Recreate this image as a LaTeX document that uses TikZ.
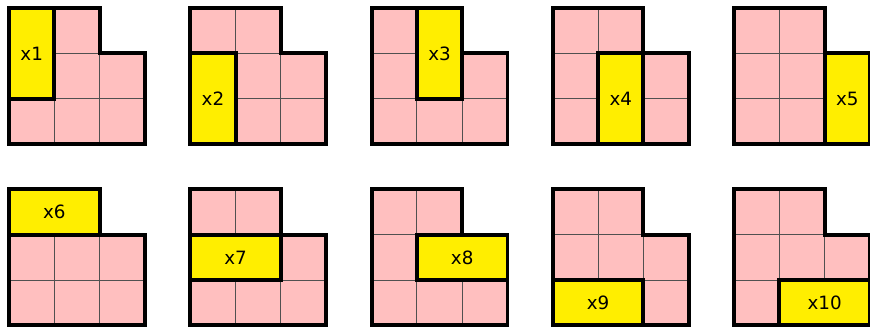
\documentclass[tikz,border=0pt]{standalone}
\usepackage{fontspec}
\setmainfont{DejaVu Sans}
\usepackage{tikz}
\definecolor{cellpink}{RGB}{255,191,191}
\definecolor{domyellow}{RGB}{255,238,0}
\definecolor{gridgray}{RGB}{80,80,80}

\begin{document}
\begin{tikzpicture}[x=1cm,y=-1cm]
			\tikzstyle{cell}=[fill=cellpink,draw=gridgray,line width=0.6pt]
			\tikzstyle{outline}=[draw=black,line width=2.5pt,line join=miter]
			\tikzstyle{domino}=[fill=domyellow,outline]
			\tikzstyle{dlabel}=[font=\fontsize{11.5}{13}\selectfont,inner sep=0pt]

			\useasboundingbox (0,0) rectangle (19.2,7.2);

			% number / column / row / width / height of the yellow piece
			\foreach \n/\c/\r/\w/\h in {1/0/0/1/2, 2/0/1/1/2, 3/1/0/1/2, 4/1/1/1/2, 5/2/1/1/2,
				6/0/0/2/1, 7/0/1/2/1, 8/1/1/2/1, 9/0/2/2/1, 10/1/2/2/1}
			{
				\pgfmathsetmacro{\ox}{0.2+4*mod(\n-1,5)}
				\pgfmathsetmacro{\oy}{0.18+4*int((\n-1)/5)}
				\begin{scope}[shift={(\ox,\oy)}]
					\foreach \x/\y in {0/0,1/0,0/1,1/1,2/1,0/2,1/2,2/2}
						\draw [cell] (\x,\y) rectangle ++(1,1);
					\draw [outline] (0,0) -- (2,0) -- (2,1) -- (3,1) -- (3,3) -- (0,3) -- cycle;
					\draw [domino] (\c,\r) rectangle ++(\w,\h);
					\node (x\n) [dlabel] at (\c+\w/2,\r+\h/2) {x\n};
				\end{scope}
			}
		\end{tikzpicture}
\end{document}
